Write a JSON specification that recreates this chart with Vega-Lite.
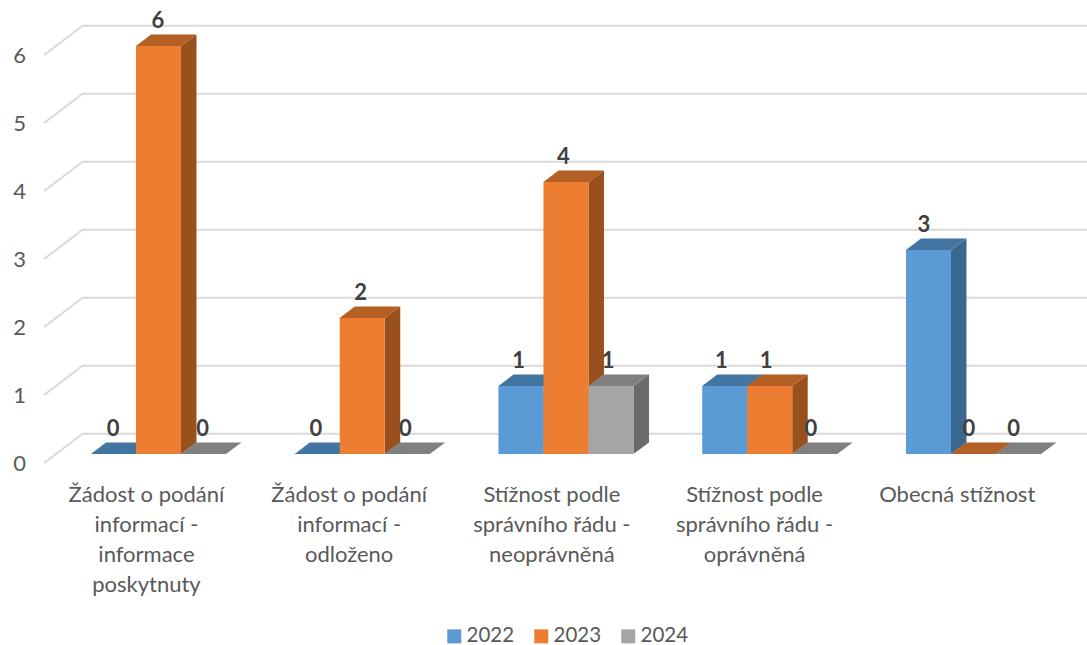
{"$schema":"https://vega.github.io/schema/vega-lite/v6.json","autosize":{"type":"none"},"width":1018.75,"height":408,"padding":{"left":56.6,"top":46,"right":11.65,"bottom":191},"background":"white","view":{"stroke":null},"config":{"font":"Lato"},
"datasets":{"rows":[
{"category":"Žádost o podání informací - informace poskytnuty","year":"2022","value":0},{"category":"Žádost o podání informací - informace poskytnuty","year":"2023","value":6},{"category":"Žádost o podání informací - informace poskytnuty","year":"2024","value":0},
{"category":"Žádost o podání informací - odloženo","year":"2022","value":0},{"category":"Žádost o podání informací - odloženo","year":"2023","value":2},{"category":"Žádost o podání informací - odloženo","year":"2024","value":0},
{"category":"Stížnost podle správního řádu - neoprávněná","year":"2022","value":1},{"category":"Stížnost podle správního řádu - neoprávněná","year":"2023","value":4},{"category":"Stížnost podle správního řádu - neoprávněná","year":"2024","value":1},
{"category":"Stížnost podle správního řádu - oprávněná","year":"2022","value":1},{"category":"Stížnost podle správního řádu - oprávněná","year":"2023","value":1},{"category":"Stížnost podle správního řádu - oprávněná","year":"2024","value":0},
{"category":"Obecná stížnost","year":"2022","value":3},{"category":"Obecná stížnost","year":"2023","value":0},{"category":"Obecná stížnost","year":"2024","value":0}],
"ticks":[{"tick":0},{"tick":1},{"tick":2},{"tick":3},{"tick":4},{"tick":5},{"tick":6}]},
"layer":[
{"data":{"name":"ticks"},"mark":{"type":"point","shape":"M-12.5,9L26,-20.3L1030.4,-20.3","size":4,"filled":false,"stroke":"#D9D9D9","strokeWidth":2,"opacity":1,"fill":null},
"encoding":{"x":{"value":0},"y":{"field":"tick","type":"quantitative","scale":{"domain":[0,6],"nice":false},"axis":{"title":null,"values":[0,1,2,3,4,5,6],"format":"d","domain":false,"ticks":false,"grid":false,"labelOffset":9.5,"labelPadding":31,"labelFontSize":22,"labelColor":"#595959","labelFont":"Lato"}}}},
{"data":{"name":"rows"},"mark":{"type":"point","filled":true,"size":4,"opacity":1},
"encoding":{"x":{"field":"category","type":"nominal","sort":null,"axis":null,"scale":{"range":[0,1018.75],"paddingInner":0.3374,"paddingOuter":0.1687}},
"xOffset":{"field":"year","type":"nominal"},
"y":{"field":"value","type":"quantitative"},
"shape":{"field":"value","type":"ordinal","legend":null,"scale":{"domain":[0,1,2,3,4,5,6],"range":["M22.5,0L38,-11.5L38,-11.5L22.5,0Z","M22.5,0L38,-11.5L38,56.5L22.5,68Z","M22.5,0L38,-11.5L38,124.5L22.5,136Z","M22.5,0L38,-11.5L38,192.5L22.5,204Z","M22.5,0L38,-11.5L38,260.5L22.5,272Z","M22.5,0L38,-11.5L38,328.5L22.5,340Z","M22.5,0L38,-11.5L38,396.5L22.5,408Z"]}},
"color":{"field":"year","type":"nominal","legend":null,"scale":{"domain":["2022","2023","2024"],"range":["#3A678F","#9A501D","#6A6A6A"]}}}},
{"data":{"name":"rows"},"mark":{"type":"point","filled":true,"size":4,"opacity":1,"shape":"M-22.5,0L-7.5,-11.5L38,-11.5L22.5,0Z"},
"encoding":{"x":{"field":"category","type":"nominal","sort":null,"axis":null,"scale":{"range":[0,1018.75],"paddingInner":0.3374,"paddingOuter":0.1687}},
"xOffset":{"field":"year","type":"nominal"},
"y":{"field":"value","type":"quantitative"},
"color":{"field":"year","type":"nominal","legend":null,"scale":{"domain":["2022","2023","2024"],"range":["#4375A2","#B45F23","#808080"]}}}},
{"data":{"name":"rows"},"mark":{"type":"bar"},
"encoding":{"x":{"field":"category","type":"nominal","sort":null,"axis":null,"scale":{"range":[0,1018.75],"paddingInner":0.3374,"paddingOuter":0.1687}},
"xOffset":{"field":"year","type":"nominal"},
"y":{"field":"value","type":"quantitative"},
"color":{"field":"year","type":"nominal","scale":{"domain":["2022","2023","2024"],"range":["#5B9BD5","#ED7D31","#A5A5A5"]},
"legend":{"title":null,"orient":"none","legendX":387.4,"legendY":580,"direction":"horizontal","columns":3,"symbolType":"square","symbolSize":196,"symbolStrokeWidth":0,"symbolOpacity":1,"labelFontSize":20.5,"labelColor":"#595959","labelFont":"Lato","columnPadding":16,"labelOffset":2}}}},
{"data":{"name":"rows"},"mark":{"type":"text","font":"Lato","fontSize":22,"fontWeight":"bold","color":"#404040","dy":-25},
"encoding":{"x":{"field":"category","type":"nominal","sort":null,"scale":{"range":[0,1013.5],"paddingInner":0.3374,"paddingOuter":0.1687},
"axis":{"title":null,"orient":"bottom","domain":false,"ticks":false,"grid":false,"labelAngle":0,"labelOffset":-11.5,"labelPadding":40,"labelFontSize":22,"labelColor":"#595959","labelFont":"Lato","labelLimit":0,"labelLineHeight":30,"labelBaseline":"middle",
"labelExpr":"{'Žádost o podání informací - informace poskytnuty':['Žádost o podání','informací -','informace','poskytnuty'],'Žádost o podání informací - odloženo':['Žádost o podání','informací -','odloženo'],'Stížnost podle správního řádu - neoprávněná':['Stížnost podle','správního řádu -','neoprávněná'],'Stížnost podle správního řádu - oprávněná':['Stížnost podle','správního řádu -','oprávněná'],'Obecná stížnost':['Obecná stížnost']}[datum.label]"}},
"xOffset":{"field":"year","type":"nominal"},
"y":{"field":"value","type":"quantitative"},
"text":{"field":"value","type":"quantitative"}}}
],
"resolve":{"scale":{"x":"independent","xOffset":"independent","color":"independent"},"axis":{"x":"independent"}}}
